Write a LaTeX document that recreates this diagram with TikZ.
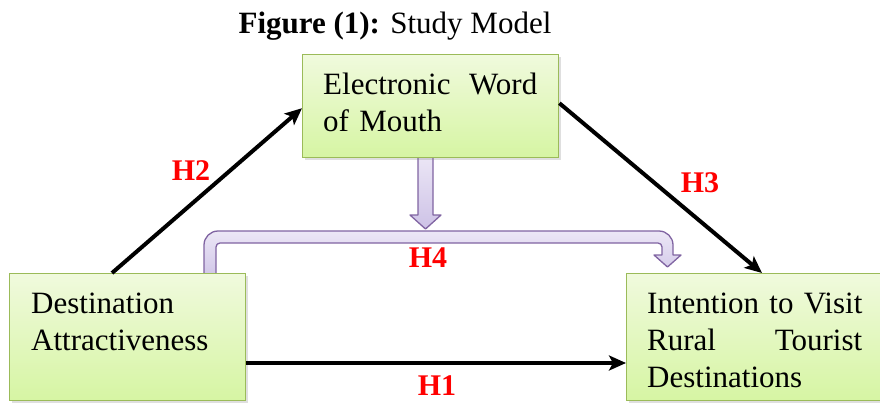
\documentclass[tikz,border=0pt]{standalone}
\usepackage{fontspec}
\setmainfont{Liberation Serif}
\usetikzlibrary{arrows.meta,shadows}
\definecolor{boxborder}{HTML}{9BBB59}
\definecolor{boxtop}{HTML}{F0FADD}
\definecolor{boxbot}{HTML}{D6F5A3}
\definecolor{purpborder}{HTML}{8064A2}
\definecolor{purptop}{HTML}{ECE7F6}
\definecolor{purpbot}{HTML}{CDC2E6}
\tikzset{
  modelbox/.style={draw=boxborder, line width=1.4pt, top color=boxtop, bottom color=boxbot,
    rectangle, inner sep=0pt, anchor=north west,
    drop shadow={opacity=0.25, shadow xshift=2pt, shadow yshift=-2pt}},
  boxtext/.style={font=\fontsize{31}{37}\selectfont, inner sep=0pt, align=left, anchor=base west, text width=240pt},
  blkarrow/.style={line width=4pt, -{Stealth[length=17pt,width=15pt,inset=4pt]}},
  hlabel/.style={font=\fontsize{30}{32}\selectfont\bfseries, text=red, inner sep=0pt},
  purparrow/.style={draw=purpborder, line width=1.3pt, top color=purptop, bottom color=purpbot, line join=round}
}
\begin{document}
\begin{tikzpicture}[x=1pt,y=-1pt]
\useasboundingbox (0,0) rectangle (880,402);
\clip (0,0) rectangle (880,402);

% title
\node[font=\fontsize{31}{34}\selectfont, anchor=base, inner sep=0pt] (title) at (395,33) {\textbf{Figure (1):} Study Model};

% bent purple arrow (behind boxes)
\path[purparrow] (204,282) [rounded corners=14pt] -- (204,231) -- (673,231) [sharp corners] -- (673,255) -- (681,255) -- (667.5,267) -- (654,255) -- (662,255) [rounded corners=4pt] -- (662,243) -- (216,243) [sharp corners] -- (216,282) -- cycle;

% down purple arrow
\path[purparrow] (418,155) -- (433,155) -- (433,215) -- (441,215) -- (425.5,229) -- (410,215) -- (418,215) -- cycle;

% boxes
\node[modelbox, minimum width=256pt, minimum height=103pt] (ewom) at (302,54) {};
\node[modelbox, minimum width=236pt, minimum height=127pt] (da) at (9,273) {};
\node[modelbox, minimum width=270pt, minimum height=127pt] (it) at (626,273) {};

% box texts
\node[boxtext] (ewomt) at (323,94) {\makebox[214pt]{Electronic\hfill Word}\\of Mouth};
\node[boxtext] (dat) at (31,313) {Destination\\Attractiveness};
\node[boxtext] (itt) at (647,313) {Intention to Visit\\\makebox[215pt]{Rural\hfill Tourist}\\Destinations};

% black arrows
\coordinate (h1y) at (0,363);
\draw[blkarrow] ([xshift=103pt]da.north west) -- ([yshift=-2pt]ewom.west);
\draw[blkarrow] ([yshift=3pt]ewom.east) -- ([xshift=136pt]it.north west);
\draw[blkarrow] (da.east |- h1y) -- (it.west |- h1y);

% labels
\node[hlabel] (h2) at (191,171) {H2};
\node[hlabel] (h3) at (700,183) {H3};
\node[hlabel] (h4) at (428,258) {H4};
\node[hlabel] (h1) at (437,386) {H1};
\end{tikzpicture}
\end{document}
